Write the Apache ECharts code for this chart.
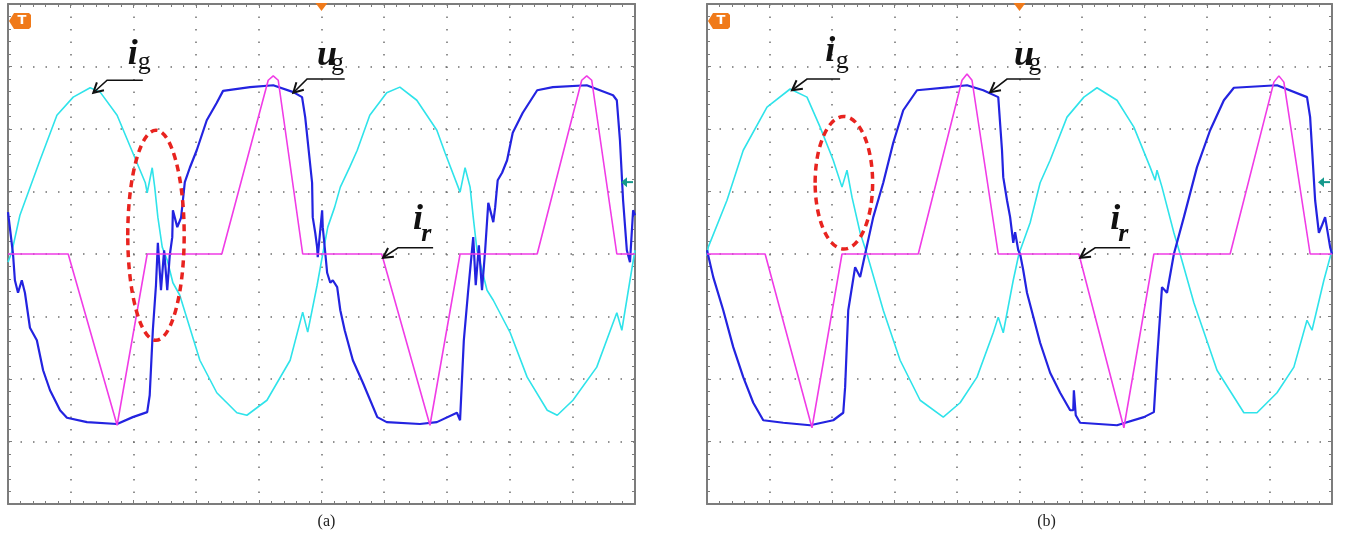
<!DOCTYPE html>
<html><head><meta charset="utf-8">
<script src="https://cdn.jsdelivr.net/npm/echarts@6/dist/echarts.min.js"></script>
<style>html,body{margin:0;padding:0;background:#fff}#c{width:1347px;height:544px}</style>
</head><body><div id="c"></div>
<script>
// ---------- DATA (time in divisions, amplitude in divisions) ----------
// Panel (a)
const igA = [[0.00,-0.13],[0.06,0.03],[0.19,0.62],[0.51,1.50],[0.78,2.22],[1.04,2.51],[1.31,2.66],[1.47,2.59],[1.74,2.22],[1.99,1.62],[2.19,1.14],[2.22,0.98],[2.30,1.38],[2.34,1.07],[2.39,0.59],[2.46,0.11],[2.54,-0.10],[2.63,-0.46],[2.74,-0.66],[3.06,-1.70],[3.33,-2.22],[3.65,-2.54],[3.81,-2.58],[4.13,-2.34],[4.50,-1.70],[4.70,-0.93],[4.78,-1.25],[4.93,-0.50],[5.02,0.00],[5.10,0.43],[5.21,0.75],[5.30,1.07],[5.45,1.39],[5.57,1.66],[5.77,2.22],[6.04,2.58],[6.25,2.67],[6.52,2.46],[6.84,1.98],[6.97,1.62],[7.21,0.99],[7.29,1.38],[7.37,1.07],[7.42,0.59],[7.48,0.06],[7.53,-0.14],[7.64,-0.58],[7.74,-0.74],[8.01,-1.26],[8.28,-1.97],[8.60,-2.50],[8.76,-2.58],[9.01,-2.34],[9.39,-1.81],[9.71,-0.94],[9.79,-1.22],[9.92,-0.42],[10.0,0.06]];
const irA = [[0.00,0.00],[0.96,0.00],[1.74,-2.74],[2.22,0.00],[3.41,0.00],[4.15,2.78],[4.23,2.85],[4.31,2.78],[4.70,0.00],[5.96,0.00],[6.73,-2.74],[7.21,0.00],[8.44,0.00],[9.15,2.78],[9.23,2.85],[9.31,2.78],[9.71,0.00],[10.0,0.00]];
const ugA = [[0.00,0.67],[0.03,0.42],[0.08,0.00],[0.11,-0.42],[0.16,-0.62],[0.22,-0.42],[0.27,-0.62],[0.35,-1.18],[0.46,-1.38],[0.56,-1.86],[0.67,-2.18],[0.83,-2.50],[0.94,-2.62],[1.26,-2.69],[1.74,-2.72],[1.99,-2.61],[2.22,-2.53],[2.26,-2.26],[2.31,-1.22],[2.36,-0.50],[2.39,0.18],[2.44,-0.58],[2.49,0.06],[2.54,-0.58],[2.58,-0.02],[2.62,0.27],[2.63,0.70],[2.70,0.43],[2.76,0.58],[2.82,1.15],[2.90,1.38],[3.01,1.66],[3.17,2.14],[3.33,2.42],[3.43,2.61],[3.86,2.67],[4.23,2.70],[4.55,2.59],[4.69,2.51],[4.74,2.19],[4.85,1.14],[4.86,0.59],[4.90,0.34],[4.93,0.11],[4.94,-0.05],[5.01,0.70],[5.02,0.43],[5.06,0.02],[5.09,-0.30],[5.14,-0.46],[5.18,-0.42],[5.25,-0.53],[5.30,-0.90],[5.37,-1.22],[5.50,-1.70],[5.66,-2.06],[5.89,-2.61],[6.04,-2.69],[6.57,-2.72],[6.84,-2.69],[7.16,-2.54],[7.21,-2.66],[7.27,-1.38],[7.34,-0.58],[7.42,0.27],[7.46,-0.50],[7.51,0.14],[7.56,-0.58],[7.61,0.06],[7.66,0.82],[7.72,0.59],[7.74,0.51],[7.77,0.75],[7.81,1.18],[7.88,1.30],[7.96,1.50],[8.05,1.94],[8.21,2.26],[8.44,2.62],[8.69,2.67],[9.23,2.70],[9.65,2.54],[9.71,2.46],[9.76,1.82],[9.81,0.86],[9.87,0.06],[9.92,-0.13],[9.97,0.70],[10.0,0.62]];
// Panel (b)
const igB = [[0.00,-0.03],[0.02,0.11],[0.32,0.86],[0.58,1.66],[0.96,2.35],[1.33,2.64],[1.60,2.51],[1.81,2.03],[2.02,1.50],[2.16,1.07],[2.24,1.34],[2.32,0.91],[2.45,0.34],[2.56,0.00],[2.82,-0.90],[3.09,-1.70],[3.41,-2.34],[3.78,-2.61],[4.05,-2.38],[4.32,-1.97],[4.58,-1.26],[4.66,-1.01],[4.74,-1.26],[4.90,-0.42],[4.99,0.00],[5.17,0.50],[5.33,1.14],[5.49,1.50],[5.76,2.19],[6.03,2.51],[6.24,2.66],[6.56,2.46],[6.83,2.03],[7.09,1.39],[7.17,1.18],[7.20,1.34],[7.28,1.07],[7.47,0.34],[7.57,0.00],[7.79,-0.78],[8.16,-1.86],[8.59,-2.54],[8.80,-2.54],[9.12,-2.22],[9.39,-1.81],[9.60,-1.06],[9.68,-1.22],[9.87,-0.42],[10.0,0.06]];
const irB = [[0.00,0.00],[0.93,0.00],[1.68,-2.78],[2.16,0.00],[3.38,0.00],[4.08,2.78],[4.16,2.88],[4.24,2.78],[4.66,0.00],[5.95,0.00],[6.67,-2.78],[7.15,0.00],[8.37,0.00],[9.07,2.75],[9.15,2.85],[9.23,2.75],[9.65,0.00],[10.0,0.00]];
const ugB = [[0.00,0.06],[0.10,-0.37],[0.26,-0.90],[0.42,-1.49],[0.58,-1.97],[0.74,-2.38],[0.90,-2.66],[1.22,-2.70],[1.65,-2.74],[2.02,-2.66],[2.18,-2.54],[2.21,-2.13],[2.26,-0.90],[2.37,-0.21],[2.45,-0.37],[2.53,0.00],[2.66,0.59],[2.82,1.14],[2.98,1.78],[3.14,2.30],[3.36,2.62],[3.89,2.67],[4.16,2.70],[4.42,2.62],[4.66,2.51],[4.72,1.66],[4.74,1.23],[4.80,0.86],[4.85,0.59],[4.90,0.18],[4.93,0.35],[4.98,0.06],[5.01,0.00],[5.06,-0.26],[5.12,-0.62],[5.33,-1.42],[5.49,-1.90],[5.65,-2.22],[5.81,-2.50],[5.86,-2.50],[5.87,-2.18],[5.90,-2.58],[5.97,-2.70],[6.56,-2.74],[6.99,-2.61],[7.15,-2.53],[7.20,-1.70],[7.28,-0.53],[7.36,-0.62],[7.47,0.00],[7.63,0.59],[7.84,1.39],[8.05,1.98],[8.27,2.46],[8.43,2.66],[9.12,2.70],[9.60,2.51],[9.65,2.19],[9.73,0.86],[9.79,0.34],[9.84,0.46],[9.89,0.59],[9.97,0.11],[10.0,0.00]];

// Axis ranges (divisions)
const X_RANGE = [0, 10];
const Y_RANGE = [-4, 4];
const captions = ['(a)', '(b)'];

// Annotations (data units): ellipse [cx, cy, rx, ry]
const ellipses = [[2.36, 0.30, 0.45, 1.68], [2.19, 1.14, 0.46, 1.06]];
const labelSets = [
  [
    {main:'i', sub:'g', subIt:false, at:[1.91,3.02], subAt:[2.07,2.98], arrow:[[2.15,2.78],[1.58,2.78],[1.36,2.58]]},
    {main:'u', sub:'g', subIt:false, at:[4.93,2.99], subAt:[5.15,2.96], arrow:[[5.37,2.80],[4.77,2.80],[4.55,2.58]]},
    {main:'i', sub:'r', subIt:true,  at:[6.46,0.38], subAt:[6.59,0.22], arrow:[[6.78,0.10],[6.22,0.10],[5.98,-0.06]]}
  ],
  [
    {main:'i', sub:'g', subIt:false, at:[1.89,3.06], subAt:[2.06,2.99], arrow:[[2.13,2.80],[1.60,2.80],[1.36,2.62]]},
    {main:'u', sub:'g', subIt:false, at:[4.91,2.99], subAt:[5.14,2.96], arrow:[[5.33,2.80],[4.80,2.80],[4.53,2.59]]},
    {main:'i', sub:'r', subIt:true,  at:[6.45,0.38], subAt:[6.58,0.22], arrow:[[6.77,0.10],[6.21,0.10],[5.97,-0.06]]}
  ]
];

// ---------- STYLE ----------
const CYAN = '#2fe3ea', BLUE = '#2323e0', MAGENTA = '#f03ce6', RED = '#e8231f';
const BORDER = '#7c7c7c', DOT = '#6f6f6f', ORANGE = '#f07a1a', TEAL = '#16998c';
const LABEL_DY = 7;
const grids = [
  {left: 8, top: 4, width: 627, height: 500, outerBoundsMode: 'none'},
  {left: 707, top: 4, width: 625, height: 500, outerBoundsMode: 'none'}
];

function xAx(gi, pos, split) {
  return {type:'value', gridIndex:gi, position:pos, min:X_RANGE[0], max:X_RANGE[1], interval:1,
    axisLine:{show:true, onZero:false, lineStyle:{color:BORDER, width:2}},
    axisTick:{show:true, inside:true, length:4, lineStyle:{color:BORDER, width:1}},
    minorTick:{show:true, splitNumber:5, length:3, lineStyle:{color:BORDER, width:1}},
    axisLabel:{show:false},
    splitLine:{show:split, lineStyle:{color:DOT, width:1.5, type:[1.5, 11]}},
    minorSplitLine:{show:false}};
}
function yAx(gi, pos, split) {
  return {type:'value', gridIndex:gi, position:pos, min:Y_RANGE[0], max:Y_RANGE[1], interval:1,
    axisLine:{show:true, onZero:false, lineStyle:{color:BORDER, width:2}},
    axisTick:{show:true, inside:true, length:4, lineStyle:{color:BORDER, width:1}},
    minorTick:{show:true, splitNumber:5, length:3, lineStyle:{color:BORDER, width:1}},
    axisLabel:{show:false},
    splitLine:{show:split, lineStyle:{color:DOT, width:1.5, type:[1.5, 11]}},
    minorSplitLine:{show:false}};
}
const xAxes = [xAx(0,'bottom',true), xAx(0,'top',false), xAx(1,'bottom',true), xAx(1,'top',false)];
const yAxes = [yAx(0,'left',true), yAx(0,'right',false), yAx(1,'left',true), yAx(1,'right',false)];

function lineSeries(gi, data, color, width, z) {
  return {type:'line', xAxisIndex:gi*2, yAxisIndex:gi*2, data:data, symbol:'none', showSymbol:false,
    lineStyle:{color:color, width:width}, z:z, silent:true, animation:false};
}
function ellipseSeries(gi) {
  return {type:'custom', xAxisIndex:gi*2, yAxisIndex:gi*2, data:[ellipses[gi]], z:10, silent:true, animation:false,
    renderItem:function(params, api){
      const c = api.coord([api.value(0), api.value(1)]);
      const s = api.size([api.value(2), api.value(3)]);
      return {type:'ellipse', shape:{cx:c[0], cy:c[1], rx:s[0], ry:s[1]},
        style:{fill:'none', stroke:RED, lineWidth:3.5, lineDash:[7,5]}};
    }};
}

const series = [];
[[igA, irA, ugA], [igB, irB, ugB]].forEach(function(set, gi){
  series.push(lineSeries(gi, set[0], CYAN, 1.6, 2));
  series.push(lineSeries(gi, set[2], BLUE, 2.2, 3));
  series.push(lineSeries(gi, set[1], MAGENTA, 1.6, 4));
  series.push(ellipseSeries(gi));
});

const chart = echarts.init(document.getElementById('c'), null, {renderer:'canvas'});
chart.setOption({
  backgroundColor:'#ffffff', animation:false,
  grid: grids, xAxis: xAxes, yAxis: yAxes, series: series
});

// ---------- annotations (positioned through the axes) ----------
const graphics = [];
const SERIF = '"Liberation Serif","DejaVu Serif",serif';
[0,1].forEach(function(gi){
  const P = function(p){ return chart.convertToPixel({xAxisIndex:gi*2, yAxisIndex:gi*2}, p); };
  labelSets[gi].forEach(function(L){
    const a = P(L.at), b = P(L.subAt);
    graphics.push({type:'text', z:20, style:{text:L.main, x:a[0], y:a[1] + LABEL_DY, font:'italic bold 36px ' + SERIF, fill:'#111', align:'left', verticalAlign:'bottom'}});
    graphics.push({type:'text', z:20, style:{text:L.sub, x:b[0], y:b[1] + LABEL_DY, font:(L.subIt ? 'italic bold ' : '') + '26px ' + SERIF, fill:'#111', align:'left', verticalAlign:'bottom'}});
    const pts = L.arrow.map(P);
    graphics.push({type:'polyline', z:20, shape:{points:pts}, style:{stroke:'#111', lineWidth:1.6, fill:null}});
    const tip = pts[pts.length-1], prev = pts[pts.length-2];
    const ang = Math.atan2(prev[1]-tip[1], prev[0]-tip[0]);
    const len = 11, spread = 0.5;
    const h1 = [tip[0] + len*Math.cos(ang+spread), tip[1] + len*Math.sin(ang+spread)];
    const h2 = [tip[0] + len*Math.cos(ang-spread), tip[1] + len*Math.sin(ang-spread)];
    graphics.push({type:'polyline', z:20, shape:{points:[h1, tip, h2]}, style:{stroke:'#111', lineWidth:2, fill:null}});
  });
  // scope markers
  const tl = P([X_RANGE[0], Y_RANGE[1]]);
  const mid = P([(X_RANGE[0]+X_RANGE[1])/2, Y_RANGE[1]]);
  const br = P([X_RANGE[1], Y_RANGE[0]]);
  const lvl = P([X_RANGE[1], 1.15]);
  graphics.push({type:'polygon', z:21, shape:{points:[[tl[0]+1, tl[1]+17],[tl[0]+6, tl[1]+9],[tl[0]+21, tl[1]+9],[tl[0]+23, tl[1]+11],[tl[0]+23, tl[1]+23],[tl[0]+21, tl[1]+25],[tl[0]+6, tl[1]+25]]}, style:{fill:ORANGE}});
  graphics.push({type:'text', z:22, style:{text:'T', x:tl[0]+14, y:tl[1]+17, font:'bold 13px "DejaVu Sans",sans-serif', fill:'#fff', align:'center', verticalAlign:'middle'}});
  graphics.push({type:'polygon', z:21, shape:{points:[[mid[0]-6, mid[1]-1],[mid[0]+6, mid[1]-1],[mid[0], mid[1]+7]]}, style:{fill:ORANGE}});
  graphics.push({type:'polygon', z:21, shape:{points:[[lvl[0]-14, lvl[1]],[lvl[0]-8, lvl[1]-5],[lvl[0]-8, lvl[1]+5]]}, style:{fill:TEAL}});
  graphics.push({type:'line', z:21, shape:{x1:lvl[0]-9, y1:lvl[1], x2:lvl[0]-2, y2:lvl[1]}, style:{stroke:TEAL, lineWidth:2}});
  // caption
  const capX = gi === 0 ? mid[0] + 5 : mid[0] + 27;
  graphics.push({type:'text', z:22, style:{text:captions[gi], x:capX, y:br[1] + 18, font:'16px ' + SERIF, fill:'#222', align:'center', verticalAlign:'middle'}});
});
chart.setOption({graphic: graphics});
</script>
</body></html>
